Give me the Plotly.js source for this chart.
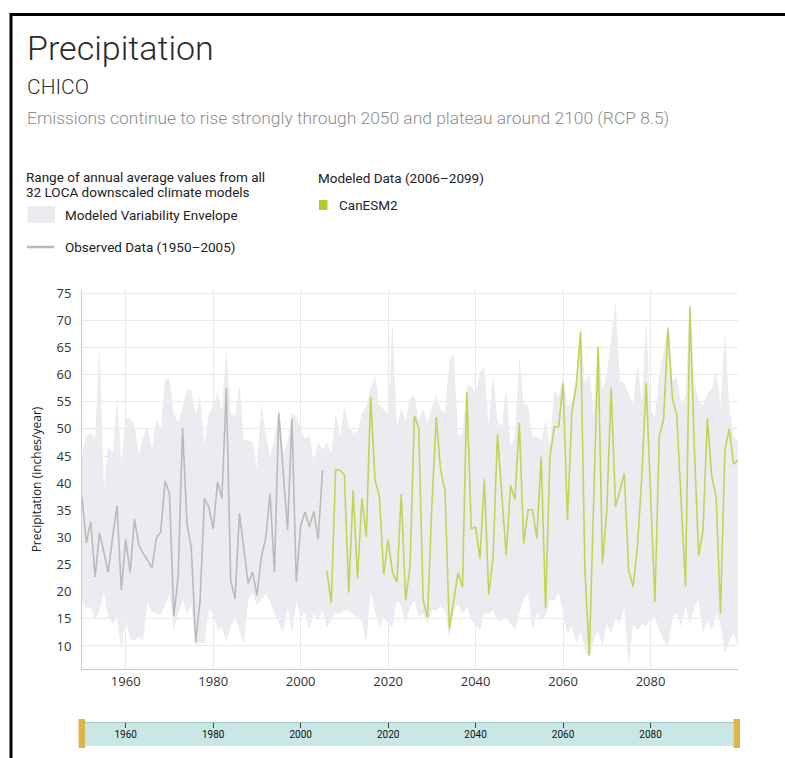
<!DOCTYPE html>
<html>
<head>
<meta charset="utf-8">
<script src="https://cdn.plot.ly/plotly-3.0.1.min.js"></script>
<style>
  html, body { margin: 0; padding: 0; background: #fff; }
  #chart { width: 785px; height: 758px; }
</style>
</head>
<body>
<div id="chart"></div>
<script>
// ---------------- data ----------------
const envStartYear = 1950;
const envUpper = [
  45.5, 48.9, 49.2, 48.2, 65.5, 39.0, 46.7, 45.5, 55.9, 43.6, 52.2, 51.9, 50.7, 45.2, 48.5, 50.4, 46.1, 51.6, 50.1, 59.0, 59.3, 52.9, 51.0, 54.0, 57.2,
  57.2, 52.6, 56.2, 47.0, 52.9, 54.1, 56.9, 53.2, 65.2, 52.9, 52.2, 58.1, 47.9, 47.9, 47.6, 42.7, 54.7, 49.2, 44.9, 47.9, 54.0, 45.5, 47.6, 53.0, 52.2, 50.0,
  48.2, 48.9, 43.9, 47.6, 46.1, 47.6, 45.5, 52.9, 48.6, 54.4, 50.4, 49.2, 49.5, 52.9, 54.1, 57.5, 59.9, 54.4, 53.5, 52.6, 69.5, 50.4, 53.8, 51.6, 55.6,
  56.2, 51.6, 53.8, 51.0, 54.1, 56.2, 53.5, 52.9, 62.7, 63.6, 48.6, 49.2, 58.0, 57.8, 56.5, 60.5, 61.5, 50.4, 60.2, 51.6, 50.4, 57.8, 46.7, 48.6, 63.3,
  54.7, 54.1, 48.6, 48.6, 47.9, 51.6, 46.7, 57.2, 55.9, 60.0, 54.1, 55.0, 59.0, 69.0, 58.4, 60.2, 52.9, 66.0, 57.2, 60.2, 66.4, 73.8, 59.0, 58.4,
  56.5, 54.1, 62.1, 55.3, 70.1, 53.5, 52.2, 59.6, 64.5, 69.5, 59.0, 59.6, 54.7, 55.9, 73.5, 59.0, 55.3, 54.1, 56.5, 57.2, 60.8, 54.1, 68.2, 54.1, 48.6, 47.9
];
const envLower = [
  18.4, 16.9, 17.2, 15.0, 16.6, 20.0, 15.3, 14.1, 15.3, 9.2, 15.3, 11.3, 11.0, 11.7, 11.0, 18.1, 16.3, 16.0, 15.7, 17.5, 19.7, 12.9, 16.0, 18.4, 16.0,
  17.5, 10.2, 10.7, 10.4, 16.9, 16.0, 12.9, 13.5, 10.7, 13.5, 15.3, 12.9, 10.4, 18.4, 19.7, 17.5, 18.4, 19.7, 18.1, 16.0, 14.1, 12.3, 17.2, 12.3, 18.4, 15.3,
  16.0, 12.9, 16.0, 14.7, 16.6, 13.5, 14.7, 16.0, 16.0, 16.6, 16.6, 16.0, 15.3, 14.7, 10.4, 20.0, 16.3, 13.5, 15.3, 14.1, 13.5, 18.4, 17.5, 14.1, 17.2,
  18.4, 15.3, 16.0, 14.0, 16.6, 16.6, 17.2, 16.6, 11.3, 16.6, 17.8, 16.0, 17.2, 14.7, 14.1, 12.9, 16.0, 16.0, 16.6, 14.7, 14.7, 15.3, 14.1, 12.9, 16.0,
  18.4, 19.7, 12.9, 16.0, 14.7, 15.5, 18.4, 18.4, 19.7, 16.0, 12.3, 13.5, 10.4, 12.9, 9.2, 7.8, 11.0, 12.9, 9.8, 14.1, 12.3, 15.3, 14.1, 17.2,
  6.3, 14.0, 12.9, 14.1, 13.5, 15.3, 15.3, 12.9, 11.0, 9.8, 15.3, 16.0, 13.5, 17.2, 14.1, 17.2, 18.4, 12.3, 14.7, 12.9, 16.0, 14.1, 8.6, 11.0, 12.3, 9.8
];

const obsStartYear = 1950;
const observed = [
  37.5, 29.0, 32.9, 22.7, 30.9, 27.3, 23.6, 30.0, 35.8, 20.3,
  29.6, 23.5, 33.4, 28.6, 27.0, 25.8, 24.4, 29.9, 31.0, 40.4,
  38.1, 15.5, 23.0, 50.2, 32.6, 28.0, 10.7, 18.4, 37.2, 35.6,
  31.6, 40.2, 37.2, 57.5, 22.1, 18.7, 34.4, 28.0, 21.5, 23.6,
  19.3, 26.4, 29.8, 38.1, 23.6, 52.9, 42.1, 31.4, 51.9, 21.8,
  32.2, 34.7, 31.9, 34.8, 29.6, 42.4
];

const modStartYear = 2006;
const canESM2 = [
  23.9, 17.9, 42.5, 42.4, 41.5, 19.8, 38.7, 22.4, 37.2, 30.1,
  55.9, 40.6, 37.5, 23.2, 29.6, 23.5, 21.8, 38.0, 18.4, 24.6,
  52.4, 50.1, 18.4, 15.3, 35.9, 52.2, 42.4, 38.7, 13.2, 18.2,
  23.5, 20.8, 56.8, 31.6, 31.9, 26.1, 40.7, 19.5, 26.4, 49.0,
  37.9, 26.7, 39.6, 37.0, 51.1, 28.9, 35.1, 35.1, 29.8, 44.9,
  16.9, 44.9, 50.4, 50.4, 58.4, 33.2, 52.9, 57.9, 67.9, 23.9,
  8.3, 36.9, 65.1, 25.2, 35.0, 57.5, 35.6, 38.7, 41.8, 23.9,
  20.9, 28.2, 41.2, 58.4, 38.1, 18.1, 48.5, 51.9, 68.5, 55.6,
  52.5, 36.9, 20.9, 72.5, 47.0, 26.7, 31.3, 51.9, 41.2, 37.5,
  16.0, 46.1, 50.0, 43.5, 44.2
];

const xTickVals = [1960, 1980, 2000, 2020, 2040, 2060, 2080];
const xTickText = ['1960', '1980', '2000', '2020', '2040', '2060', '2080'];

const titleText = 'Precipitation';
const locationText = 'CHICO';
const scenarioText = 'Emissions continue to rise strongly through 2050 and plateau around 2100 (RCP 8.5)';
const yTitleText = 'Precipitation (inches/year)';

// ---------------- helpers ----------------
const yearsFrom = (start, n) => Array.from({length: n}, (_, i) => start + i);
const envYears = yearsFrom(envStartYear, envUpper.length);
const obsYears = yearsFrom(obsStartYear, observed.length);
const modYears = yearsFrom(modStartYear, canESM2.length);

// plot area in pixels: left 82, right 738, top 290, bottom 748
const PL = 82, PW = 656, PB = 748, PH = 458;
const px = v => (v - PL) / PW;
const py = v => (PB - v) / PH;

const envColor = '#ececf0';
const obsColor = '#bababa';
const modColor = '#c3d355';
const legendFont = {family: 'Roboto, "Liberation Sans", sans-serif', size: 13.5, color: '#222'};

// ---------------- traces ----------------
const traces = [
  {x: envYears, y: envLower, type: 'scatter', mode: 'lines', line: {width: 0, color: envColor},
   showlegend: false, hoverinfo: 'skip', xaxis: 'x', yaxis: 'y'},
  {x: envYears, y: envUpper, type: 'scatter', mode: 'lines', line: {width: 0, color: envColor},
   fill: 'tonexty', fillcolor: envColor, showlegend: false, hoverinfo: 'skip', xaxis: 'x', yaxis: 'y'},
  {x: obsYears, y: observed, type: 'scatter', mode: 'lines', line: {width: 1.6, color: obsColor},
   name: 'Observed Data (1950–2005)', showlegend: false, xaxis: 'x', yaxis: 'y'},
  {x: modYears, y: canESM2, type: 'scatter', mode: 'lines', line: {width: 1.6, color: modColor},
   name: 'CanESM2', showlegend: false, xaxis: 'x', yaxis: 'y'},
  // empty trace so the range-band axis is created
  {x: [], y: [], type: 'scatter', mode: 'lines', showlegend: false, hoverinfo: 'skip', xaxis: 'x2', yaxis: 'y2'}
];

// ---------------- annotations ----------------
function ann(text, x, y, font) {
  return {text: text, x: px(x), y: py(y), xref: 'paper', yref: 'paper',
          xanchor: 'left', yanchor: 'middle', showarrow: false, align: 'left', font: font};
}
const annotations = [
  ann(titleText, 25, 48, {family: 'Roboto, sans-serif', size: 34, color: '#2a2a2a', weight: 300}),
  ann(locationText, 25, 87, {family: 'Roboto, sans-serif', size: 21, color: '#333', weight: 300}),
  ann(scenarioText, 25, 118, {family: 'Roboto, sans-serif', size: 17.4, color: '#8c8c8c', weight: 300}),
  ann('Range of annual average values from all', 24, 177, legendFont),
  ann('32 LOCA downscaled climate models', 24, 192, legendFont),
  ann('Modeled Variability Envelope', 63, 215, legendFont),
  ann('Observed Data (1950–2005)', 63, 247, legendFont),
  ann('Modeled Data (2006–2099)', 316, 178, legendFont),
  ann('CanESM2', 337, 205, legendFont)
];

// ---------------- shapes ----------------
const shapes = [
  // outer frame (top + left)
  {type: 'path', xref: 'paper', yref: 'paper',
   path: `M ${px(11)},${py(800)} L ${px(11)},${py(14.5)} L ${px(800)},${py(14.5)}`,
   line: {color: '#000', width: 3}},
  // legend swatches
  {type: 'rect', xref: 'paper', yref: 'paper', x0: px(27.5), x1: px(55), y0: py(223), y1: py(206),
   fillcolor: envColor, line: {width: 0}},
  {type: 'line', xref: 'paper', yref: 'paper', x0: px(27), x1: px(54), y0: py(247), y1: py(247),
   line: {color: obsColor, width: 2.5}},
  {type: 'rect', xref: 'paper', yref: 'paper', x0: px(319), x1: px(327.5), y0: py(210), y1: py(200),
   fillcolor: '#b5c92f', line: {width: 0}},
  // range band
  {type: 'rect', xref: 'paper', yref: 'paper', x0: px(85), x1: px(733.5), y0: py(746), y1: py(723),
   fillcolor: '#c9e7e5', line: {width: 0}, layer: 'below'},
  {type: 'rect', xref: 'paper', yref: 'paper', x0: px(78.5), x1: px(85), y0: py(748), y1: py(719),
   fillcolor: '#dcb54b', line: {width: 0}},
  {type: 'rect', xref: 'paper', yref: 'paper', x0: px(733.5), x1: px(740), y0: py(748), y1: py(719),
   fillcolor: '#dcb54b', line: {width: 0}}
];

// ---------------- layout ----------------
const layout = {
  width: 785, height: 758,
  margin: {l: 82, r: 47, t: 290, b: 10, pad: 0},
  paper_bgcolor: '#ffffff', plot_bgcolor: 'rgba(0,0,0,0)',
  showlegend: false,
  font: {family: '"Open Sans", sans-serif', color: '#333'},
  xaxis: {
    domain: [0, 1], anchor: 'y', range: [1950, 2100],
    tickmode: 'array', tickvals: xTickVals, ticktext: xTickText,
    ticks: '', showgrid: true, gridcolor: '#e8e8ef', gridwidth: 1,
    showline: true, linecolor: '#c9ccd8', linewidth: 1, zeroline: false,
    tickfont: {family: '"Open Sans", sans-serif', size: 13, color: '#333'}
  },
  yaxis: {
    domain: [(PB - 669) / PH, 1], anchor: 'x', range: [5.75, 75.6],
    tick0: 0, dtick: 5, ticks: '', showgrid: true, gridcolor: '#e8e8ef', gridwidth: 1,
    showline: true, linecolor: '#c9ccd8', linewidth: 1, zeroline: false,
    ticklabelstandoff: 7,
    tickfont: {family: '"Open Sans", sans-serif', size: 13, color: '#333'},
    title: {text: yTitleText, font: {family: '"Open Sans", sans-serif', size: 12, color: '#222'}, standoff: 12}
  },
  xaxis2: {
    domain: [0, 1], anchor: 'y2', range: [1950, 2100], side: 'top',
    tickmode: 'array', tickvals: xTickVals, ticktext: xTickText,
    ticks: 'inside', ticklen: 5, tickcolor: '#444', tickwidth: 1,
    ticklabelposition: 'inside', ticklabelstandoff: 2, showgrid: false, zeroline: false,
    showline: true, linecolor: '#9fcac7', linewidth: 1, fixedrange: true,
    tickfont: {family: '"Liberation Sans Narrow", Roboto, sans-serif', size: 10, color: '#111'}
  },
  yaxis2: {
    domain: [py(746), py(723)], anchor: 'x2', range: [0, 1],
    showticklabels: false, showgrid: false, zeroline: false, showline: false, ticks: '', fixedrange: true
  },
  annotations: annotations,
  shapes: shapes,
  hovermode: false
};

Plotly.newPlot('chart', traces, layout, {displayModeBar: false, staticPlot: true});
</script>
</body>
</html>
